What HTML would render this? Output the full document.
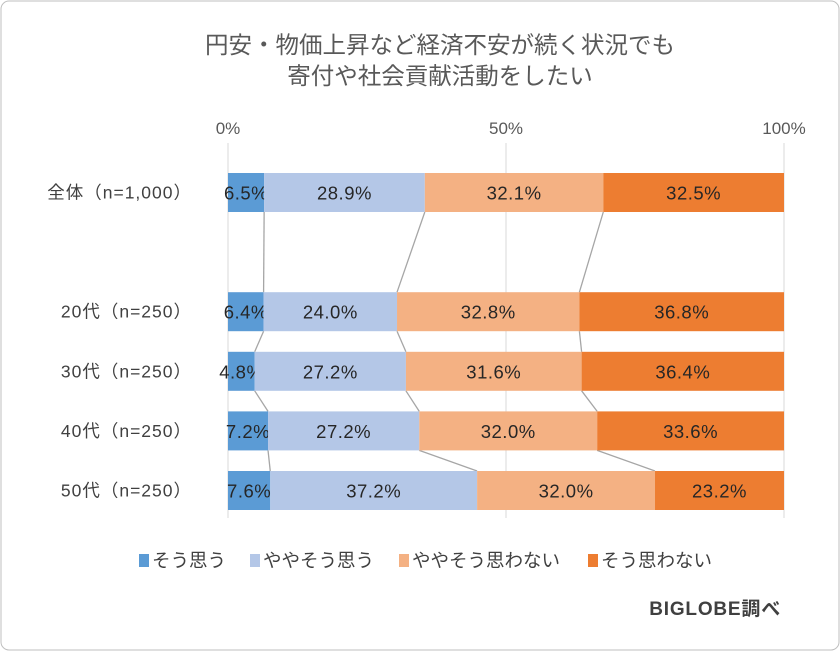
<!DOCTYPE html>
<html><head><meta charset="utf-8"><style>
body{margin:0;background:#fff;}
svg{display:block;font-family:"Liberation Sans","Noto Sans CJK JP",sans-serif;}
</style></head><body>
<svg id="c" width="840" height="651">
<rect x="1" y="1" width="838" height="649" rx="8" fill="#fff" stroke="#bfbfbf"/>
<text x="440" y="53" text-anchor="middle" font-size="23.5" fill="#595959">円安・物価上昇など経済不安が続く状況でも</text>
<text x="440" y="84" text-anchor="middle" font-size="23.5" fill="#595959">寄付や社会貢献活動をしたい</text>
<g id="g"></g>
<text x="781" y="615" text-anchor="end" font-size="19" font-weight="bold" letter-spacing="0.8" fill="#404040">BIGLOBE調べ</text>
</svg>
<script>
const categories=["全体（n=1,000）","20代（n=250）","30代（n=250）","40代（n=250）","50代（n=250）"];
const slots=[0,2,3,4,5];
const s1=[6.5,6.4,4.8,7.2,7.6];
const s2=[28.9,24.0,27.2,27.2,37.2];
const s3=[32.1,32.8,31.6,32.0,32.0];
const s4=[32.5,36.8,36.4,33.6,23.2];
const seriesNames=["そう思う","ややそう思う","ややそう思わない","そう思わない"];
const ticks=[0,50,100];
const colors=["#5b9bd5","#b4c7e7","#f4b183","#ed7d31"];
const series=[s1,s2,s3,s4];
const NS="http://www.w3.org/2000/svg";
const g=document.getElementById('g');
const X=v=>228+v/100*556;
const Y=s=>192.5+s*59.6;
const BH=39;
function el(t,a,p){const e=document.createElementNS(NS,t);for(const k in a)e.setAttribute(k,a[k]);(p||g).appendChild(e);return e;}
ticks.forEach(t=>{
 const l=el('line',{x1:X(t),x2:X(t),y1:143,y2:518,stroke:'#d9d9d9'});
 
 
 const tx=el('text',{x:X(t),y:134,'text-anchor':'middle','font-size':17,fill:'#595959'});
 tx.textContent=t+'%';
 
 
});
for(let i=0;i<categories.length-1;i++){
 let c1=0,c2=0;
 for(let k=0;k<3;k++){
  c1+=series[k][i];c2+=series[k][i+1];
  const l=el('line',{x1:X(c1),y1:Y(slots[i])+BH/2,x2:X(c2),y2:Y(slots[i+1])-BH/2,stroke:'#a6a6a6','stroke-width':1.3});
  
  
 }
}
categories.forEach((c,i)=>{
 const cy=Y(slots[i]);
 const lb=el('text',{x:192,y:cy+6,'text-anchor':'end','font-size':17.5,'letter-spacing':'1',fill:'#404040'});
 lb.textContent=c;
 
 
 let cum=0;
 series.forEach((s,k)=>{
  const v=s[i];
  const r=el('rect',{x:X(cum),y:cy-BH/2,width:X(cum+v)-X(cum),height:BH,fill:colors[k]});
  
  
  const t=el('text',{x:(X(cum)+X(cum+v))/2,y:cy+7,'text-anchor':'middle','font-size':18.5,'letter-spacing':'0.5',fill:'#262626'});
  t.textContent=v.toFixed(1)+'%';
  
  
  cum+=v;
 });
});
const lx=[139,250,399,588];
seriesNames.forEach((n,k)=>{
 const r=el('rect',{x:lx[k],y:554,width:10,height:13,fill:colors[k]});
 
 
 const t=el('text',{x:lx[k]+13,y:567,'font-size':18.5,fill:'#404040'});
 t.textContent=n;
 
 
});
</script>
</body></html>
